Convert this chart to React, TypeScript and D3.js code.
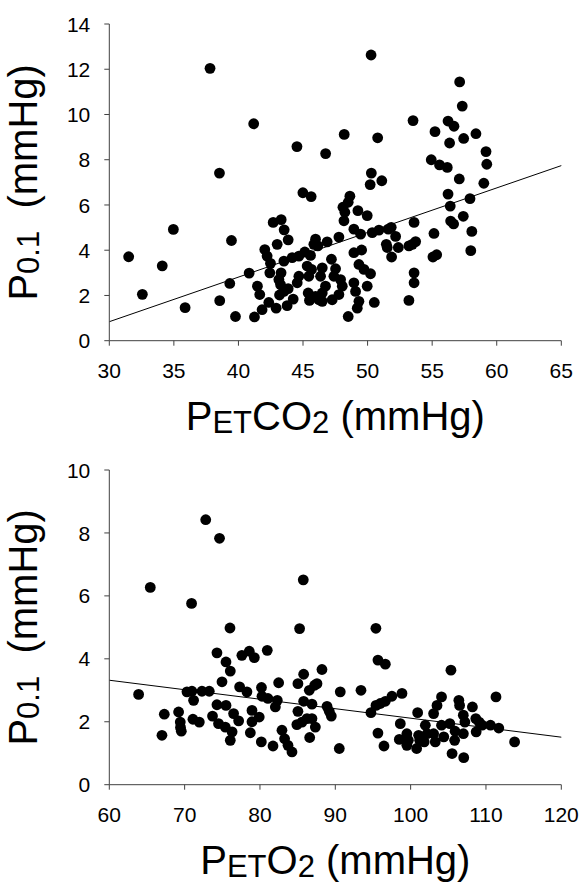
import React from "react";
import * as d3 from "d3";

// ---- Data ----
const co2Points: [number, number][] = [
  [37.8, 12.04], [38.53, 7.41], [41.18, 9.59], [44.53, 8.58], [46.75, 8.27], [48.19, 9.12],
  [50.27, 12.63], [50.78, 8.97], [50.29, 7.41], [50.2, 6.9], [51.1, 7.07], [53.52, 9.73],
  [55.22, 9.24], [54.93, 8.0], [55.57, 7.77], [56.17, 7.66], [56.23, 9.71], [56.69, 9.48],
  [56.35, 8.74], [57.13, 11.44], [57.33, 10.37], [57.44, 8.94], [58.39, 9.15], [59.17, 8.36],
  [59.23, 7.8], [59.0, 6.96], [57.1, 7.15], [56.23, 6.48], [56.4, 5.95], [57.93, 6.28],
  [57.41, 5.5], [56.43, 5.29], [56.66, 5.16], [58.07, 4.83], [57.99, 3.98],
  [31.5, 3.71], [32.56, 2.05], [34.1, 3.31], [34.96, 4.92], [35.87, 1.46], [38.55, 1.77],
  [39.33, 2.53], [39.46, 4.43], [39.77, 1.07], [40.83, 2.99], [41.24, 1.05], [41.47, 2.41],
  [41.65, 2.04], [41.83, 1.37], [42.04, 4.03], [42.22, 3.74], [42.48, 3.42], [42.43, 3.0],
  [42.69, 5.23], [43.31, 5.35], [43.0, 4.26], [43.54, 4.9], [43.85, 4.46], [43.3, 3.0],
  [43.13, 2.7], [43.26, 2.48], [42.92, 1.44], [42.35, 1.69], [43.18, 2.02], [43.52, 2.18],
  [43.85, 2.3], [43.77, 1.55], [44.24, 1.84], [43.52, 3.52], [44.16, 3.67], [44.68, 3.74],
  [45.14, 3.92], [45.58, 3.77], [44.68, 2.85], [44.55, 2.56], [44.99, 6.54], [45.63, 6.37],
  [45.32, 3.3], [45.66, 3.15], [45.45, 2.85], [45.97, 4.49], [46.15, 4.19], [45.84, 4.26],
  [46.87, 4.37], [46.49, 3.22], [46.36, 2.85], [46.74, 2.41], [46.49, 2.11], [46.23, 1.81],
  [45.4, 2.11], [45.5, 1.78], [45.97, 1.96], [46.49, 1.74], [47.2, 3.6], [47.52, 3.18],
  [47.39, 2.85], [47.91, 2.7], [48.04, 2.41], [47.78, 2.04], [47.26, 1.81], [47.78, 4.58],
  [48.63, 6.39], [48.5, 6.12], [48.09, 5.9], [48.24, 5.68], [48.17, 5.3], [49.25, 5.75],
  [49.97, 5.53], [48.94, 4.93], [49.46, 4.71], [48.94, 3.89], [49.54, 4.01], [49.33, 3.37],
  [49.72, 3.15], [50.23, 2.96], [48.94, 2.56], [49.07, 2.18], [49.33, 1.74], [49.2, 1.44],
  [49.97, 2.41], [48.5, 1.07], [50.52, 1.69], [50.36, 4.78], [50.88, 4.89], [51.6, 4.93],
  [51.83, 5.01], [52.17, 4.61], [51.45, 4.26], [51.52, 4.12], [51.86, 3.7], [52.38, 4.12],
  [53.2, 1.78], [53.6, 5.23], [53.2, 4.19], [53.72, 4.38], [53.46, 4.26], [53.6, 3.0],
  [53.6, 2.56], [55.14, 4.74], [55.06, 3.7], [55.35, 3.8],
];

const o2Points: [number, number][] = [
  [65.44, 6.27], [72.8, 8.42], [74.63, 7.83], [70.92, 5.76], [76.02, 4.98], [85.75, 6.51],
  [85.26, 4.96], [95.39, 4.97], [63.89, 2.87], [66.99, 1.57], [67.3, 2.24], [69.2, 2.31],
  [69.42, 1.99], [69.45, 1.82], [69.56, 1.7], [70.31, 2.95], [70.97, 2.97], [71.19, 2.68],
  [71.1, 2.08], [71.95, 1.99], [72.3, 2.97], [73.27, 2.97], [74.29, 4.19], [74.96, 3.27],
  [75.49, 3.9], [76.06, 3.61], [74.29, 2.54], [75.49, 2.52], [73.7, 2.18], [74.5, 1.94],
  [75.4, 1.83], [76.3, 1.68], [76.06, 1.41], [76.5, 2.26], [77.17, 2.03], [77.3, 3.11],
  [78.27, 2.95], [77.6, 4.11], [78.58, 4.24], [79.25, 4.04], [80.97, 4.27], [78.94, 2.36],
  [79.9, 2.15], [78.94, 2.0], [78.72, 1.65], [80.2, 3.09], [80.27, 2.81], [81.06, 2.74],
  [82.3, 2.68], [82.04, 2.47], [82.48, 3.24], [80.18, 1.36], [81.73, 1.23], [82.92, 1.73],
  [83.27, 1.46], [83.72, 1.25], [84.25, 1.04], [85.04, 3.21], [85.8, 3.51], [85.04, 2.33],
  [85.58, 1.99], [84.9, 1.91], [85.8, 2.65], [86.9, 2.56], [86.24, 2.1], [86.9, 2.1],
  [87.35, 1.83], [86.6, 1.5], [86.55, 3.0], [87.26, 3.16], [87.57, 3.21], [88.23, 3.66],
  [88.9, 2.49], [89.2, 2.33], [89.47, 2.18], [90.66, 2.95], [90.53, 1.15], [93.41, 3.0],
  [95.66, 3.96], [96.64, 3.83], [94.73, 2.29], [95.4, 2.52], [95.97, 2.58], [96.64, 2.65],
  [97.52, 2.81], [98.85, 2.9], [95.66, 1.64], [96.46, 1.23], [98.63, 1.94], [98.5, 1.44],
  [100.93, 2.29], [99.5, 1.62], [99.7, 1.41], [99.5, 1.25], [100.8, 1.15], [101.06, 1.57],
  [101.95, 1.89], [102.2, 1.62], [101.8, 1.36], [101.2, 1.41], [103.05, 2.26], [103.5, 2.52],
  [104.1, 2.79], [103.05, 1.62], [103.27, 1.36], [104.1, 1.89], [104.4, 1.52], [105.2, 1.94],
  [105.35, 3.64], [105.84, 1.41], [105.5, 0.99], [107.05, 0.86], [106.4, 2.68], [106.5, 2.52],
  [106.99, 2.21], [107.2, 1.99], [107.0, 1.62], [108.2, 2.47], [108.65, 2.1], [109.1, 1.99],
  [108.7, 1.68], [109.5, 1.89], [110.6, 1.89], [111.7, 1.8], [111.33, 2.79], [113.8, 1.36],
  [105.9, 1.7],
];

const co2XTicks = [30, 35, 40, 45, 50, 55, 60, 65];
const co2YTicks = [0, 2, 4, 6, 8, 10, 12, 14];
const o2XTicks = [60, 70, 80, 90, 100, 110, 120];
const o2YTicks = [0, 2, 4, 6, 8, 10];

const co2Fit: [number, number][] = [[30, 0.84], [65, 7.74]];
const o2Fit: [number, number][] = [[60, 3.32], [120, 1.51]];

const FONT = "'Liberation Sans', Arial, sans-serif";
const AXIS = "#404040";

type PanelProps = {
  points: [number, number][];
  xTicks: number[];
  yTicks: number[];
  fit: [number, number][];
  top: number;
  bottom: number;
  xLabelSub: string;
  xLabelTail: string;
};

function Panel({ points, xTicks, yTicks, fit, top, bottom, xLabelSub, xLabelTail }: PanelProps) {
  const left = 109.3;
  const right = 561.3;
  const x = d3.scaleLinear().domain([xTicks[0], xTicks[xTicks.length - 1]]).range([left, right]);
  const y = d3.scaleLinear().domain([yTicks[0], yTicks[yTicks.length - 1]]).range([bottom, top]);
  const line = d3.line<[number, number]>().x((d) => x(d[0])).y((d) => y(d[1]));
  const cy = (top + bottom) / 2;
  const cx = (left + right) / 2;
  return (
    <g fontFamily={FONT}>
      <path d={line(fit) || ""} stroke="#000" strokeWidth={1} fill="none" />
      {points.map((p, i) => (
        <circle key={i} cx={x(p[0])} cy={y(p[1])} r={5.4} fill="#000" />
      ))}
      <line x1={left} x2={left} y1={top} y2={bottom} stroke={AXIS} strokeWidth={1} />
      <line x1={left} x2={right} y1={bottom} y2={bottom} stroke={AXIS} strokeWidth={1} />
      {yTicks.map((t) => (
        <g key={"y" + t}>
          <line x1={left - 5} x2={left} y1={y(t)} y2={y(t)} stroke={AXIS} strokeWidth={1} />
          <text x={left - 19} y={y(t)} dy="0.36em" textAnchor="end" fontSize={21} fill="#000">
            {t}
          </text>
        </g>
      ))}
      {xTicks.map((t) => (
        <g key={"x" + t}>
          <line x1={x(t)} x2={x(t)} y1={bottom} y2={bottom + 5} stroke={AXIS} strokeWidth={1} />
          <text x={x(t)} y={bottom + 37} textAnchor="middle" fontSize={21} fill="#000">
            {t}
          </text>
        </g>
      ))}
      <text
        transform={`translate(37,${cy}) rotate(-90)`}
        textAnchor="middle"
        fontSize={40}
        fill="#000"
      >
        <tspan>P</tspan>
        <tspan fontSize={31} dy={2}>0.1</tspan>
        <tspan dy={-2}>{"\u00a0 (mmHg)"}</tspan>
      </text>
      <text x={cx} y={bottom + 89} textAnchor="middle" fontSize={40} fill="#000">
        <tspan>P</tspan>
        <tspan fontSize={31} dy={3}>ET</tspan>
        <tspan dy={-3}>{xLabelSub}</tspan>
        <tspan fontSize={31} dy={3}>2</tspan>
        <tspan dy={-3}>{xLabelTail}</tspan>
      </text>
    </g>
  );
}

export default function App() {
  return (
    <svg
      width={584}
      height={884}
      style={{ position: "absolute", left: 0, top: 0, background: "#fff" }}
    >
      <rect width={584} height={884} fill="#fff" />
      <Panel
        points={co2Points}
        xTicks={co2XTicks}
        yTicks={co2YTicks}
        fit={co2Fit}
        top={24}
        bottom={340.7}
        xLabelSub="CO"
        xLabelTail=" (mmHg)"
      />
      <Panel
        points={o2Points}
        xTicks={o2XTicks}
        yTicks={o2YTicks}
        fit={o2Fit}
        top={470}
        bottom={784.7}
        xLabelSub="O"
        xLabelTail=" (mmHg)"
      />
    </svg>
  );
}
